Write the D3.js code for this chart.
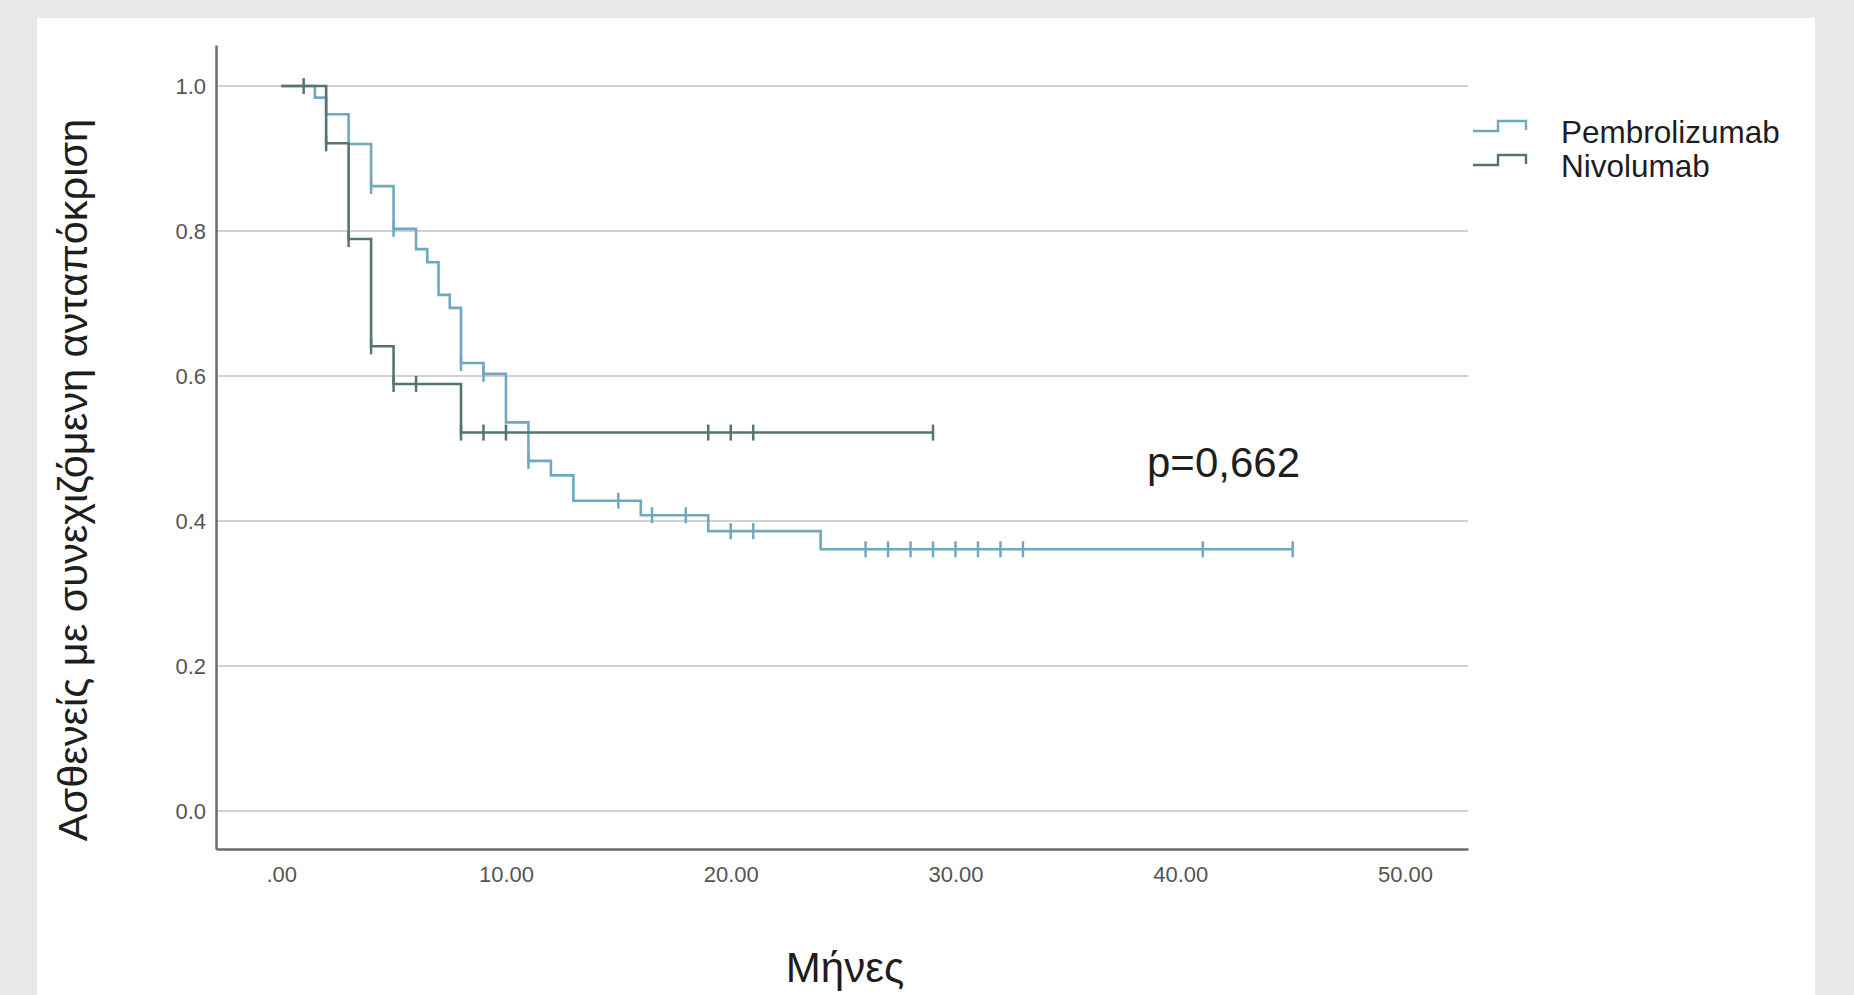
<!DOCTYPE html>
<html>
<head>
<meta charset="utf-8">
<script src="https://cdn.jsdelivr.net/npm/d3@7"></script>
<style>
  html, body { margin: 0; padding: 0; background: #e8e8e8; }
  svg { display: block; }
  text { font-family: "Liberation Sans", Arial, sans-serif; }
</style>
</head>
<body>
<svg id="chart" width="1854" height="995"></svg>
<script>
// ---- data ----
const seriesNames = ["Pembrolizumab", "Nivolumab"];
const seriesColors = ["#6fa9c0", "#567473"];

// Pembrolizumab KM steps: time (months) and survival after the step
const pembroTimes = [0, 1.5, 2, 3, 4, 5, 6, 6.5, 7, 7.5, 8, 9, 10, 11, 12, 13, 16, 19, 24, 45];
const pembroSurv  = [1.0, 0.984, 0.961, 0.92, 0.862, 0.803, 0.775, 0.757, 0.712, 0.694, 0.618, 0.603, 0.536, 0.483, 0.463, 0.428, 0.408, 0.386, 0.361, 0.361];
const pembroCensorTimes = [4, 5, 8, 9, 11, 15, 16.5, 18, 20, 21, 26, 27, 28, 29, 30, 31, 32, 33, 41, 45];

// Nivolumab KM steps
const nivoTimes = [0, 2, 3, 4, 5, 8, 29];
const nivoSurv  = [1.0, 0.921, 0.789, 0.641, 0.589, 0.522, 0.522];
const nivoCensorTimes = [1, 2, 3, 4, 5, 6, 8, 9, 10, 19, 20, 21, 29];

const xTickValues = [0, 10, 20, 30, 40, 50];
const xTickLabels = [".00", "10.00", "20.00", "30.00", "40.00", "50.00"];
const yTickValues = [0, 0.2, 0.4, 0.6, 0.8, 1.0];
const yTickLabels = ["0.0", "0.2", "0.4", "0.6", "0.8", "1.0"];

const xTitle = "Μήνες";
const yTitle = "Ασθενείς με συνεχιζόμενη ανταπόκριση";
const pText = "p=0,662";

// ---- layout ----
const svg = d3.select("#chart");

svg.append("rect").attr("x", 37).attr("y", 18).attr("width", 1778).attr("height", 977).attr("fill", "#ffffff");

const x = d3.scaleLinear().domain([-2.9, 52.8]).range([216, 1468]);
const y = d3.scaleLinear().domain([-0.0524, 1.0566]).range([849, 45]);

// gridlines
svg.append("g").selectAll("line").data(yTickValues).join("line")
  .attr("x1", x.range()[0]).attr("x2", x.range()[1])
  .attr("y1", d => y(d)).attr("y2", d => y(d))
  .attr("stroke", "#d2d2d2").attr("stroke-width", 2);

// axes
const xAxis = d3.axisBottom(x).tickValues(xTickValues)
  .tickFormat((d, i) => xTickLabels[i]).tickSize(0).tickPadding(17);
const gx = svg.append("g").attr("transform", `translate(0,${y.range()[0]})`).call(xAxis);
gx.select(".domain").attr("stroke", "#6b6b6b").attr("stroke-width", 2.5);
gx.selectAll("text").attr("font-size", 22).attr("fill", "#555555")
  .attr("font-family", "Liberation Sans, Arial, sans-serif");

const yAxis = d3.axisLeft(y).tickValues(yTickValues)
  .tickFormat((d, i) => yTickLabels[i]).tickSize(0).tickPadding(10);
const gy = svg.append("g").attr("transform", `translate(${x.range()[0]},0)`).call(yAxis);
gy.select(".domain").attr("stroke", "#6b6b6b").attr("stroke-width", 2.5);
gy.selectAll("text").attr("font-size", 22).attr("fill", "#555555")
  .attr("font-family", "Liberation Sans, Arial, sans-serif");

// curves
const series = [
  { name: seriesNames[0], color: seriesColors[0], times: pembroTimes, surv: pembroSurv, censors: pembroCensorTimes },
  { name: seriesNames[1], color: seriesColors[1], times: nivoTimes, surv: nivoSurv, censors: nivoCensorTimes }
];

const line = d3.line().x(d => x(d[0])).y(d => y(d[1])).curve(d3.curveStepAfter);

function survAt(s, t) {
  let v = s.surv[0];
  for (let i = 0; i < s.times.length; i++) { if (s.times[i] <= t) v = s.surv[i]; }
  return v;
}

series.forEach(s => {
  const pts = s.times.map((t, i) => [t, s.surv[i]]);
  const g = svg.append("g");
  g.append("path").datum(pts).attr("d", line)
    .attr("fill", "none").attr("stroke", s.color).attr("stroke-width", 2.6);
  g.selectAll("line.censor").data(s.censors).join("line").attr("class", "censor")
    .attr("x1", d => x(d)).attr("x2", d => x(d))
    .attr("y1", d => y(survAt(s, d)) - 8).attr("y2", d => y(survAt(s, d)) + 8)
    .attr("stroke", s.color).attr("stroke-width", 2.5);
});

// p value
svg.append("text").attr("x", 1147).attr("y", 477).attr("font-size", 42)
  .attr("fill", "#1e1e1e").text(pText);

// axis titles
svg.append("text").attr("x", 845).attr("y", 982).attr("text-anchor", "middle")
  .attr("font-size", 42).attr("fill", "#1e1e1e").text(xTitle);
svg.append("text").attr("transform", "translate(87,480) rotate(-90)")
  .attr("text-anchor", "middle").attr("font-size", 41.5).attr("fill", "#1e1e1e").text(yTitle);

// legend
const legend = svg.append("g").attr("transform", "translate(1473,0)");
const legRows = legend.selectAll("g").data(series).join("g")
  .attr("transform", (d, i) => `translate(0,${131 + i * 34})`);
legRows.append("path")
  .attr("d", "M0,0 H25 V-10 H53 V-1")
  .attr("fill", "none").attr("stroke", d => d.color).attr("stroke-width", 2.4);
legRows.append("text").attr("x", 88).attr("y", 12).attr("font-size", 31.5)
  .attr("fill", "#1e1e1e").text(d => d.name);
</script>
</body>
</html>
